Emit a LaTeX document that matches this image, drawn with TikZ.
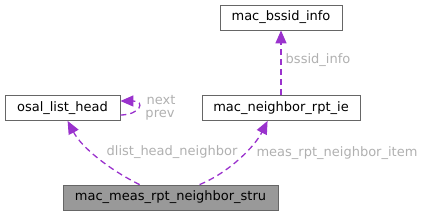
\documentclass[tikz,border=0pt]{standalone}
\usepackage{fontspec}
\setmainfont{DejaVu Sans}
\usetikzlibrary{arrows.meta}
\definecolor{edgec}{HTML}{9A32CD}
\definecolor{lblc}{HTML}{B0B0B0}
\definecolor{boxc}{HTML}{666666}
\definecolor{hilite}{HTML}{999999}
\begin{document}
\begin{tikzpicture}[x=1pt,y=-1pt,
  box/.style={draw=boxc, line width=0.8pt, fill=white, minimum height=25pt, inner sep=0pt, font=\fontsize{13}{15}\selectfont},
  conn/.style={draw=edgec, line width=1.3pt, dash pattern=on 6pt off 4pt, -{Triangle[length=13pt,width=11pt]}},
  lbl/.style={text=lblc, inner sep=0pt, font=\fontsize{13}{15}\selectfont}]
\useasboundingbox (0,0) rectangle (424,216);
\node[box, minimum width=115pt] (osal) at (62.5,108) {osal\_list\_head};
\node[box, minimum width=122pt] (bssid) at (281,17.5) {mac\_bssid\_info};
\node[box, minimum width=158pt] (rpt) at (281,108) {mac\_neighbor\_rpt\_ie};
\node[box, minimum width=215pt, fill=hilite] (stru) at (170.5,197.5) {mac\_meas\_rpt\_neighbor\_stru};
\draw[conn] ([xshift=77pt]stru.north west) .. controls (110,170) and (82,148) .. ([xshift=63pt]osal.south west);
\draw[conn] ([xshift=137pt]stru.north west) .. controls (230,172) and (255,146) .. ([xshift=66pt]rpt.south west);
\draw[conn] ([yshift=-7pt]osal.east) .. controls (140,115) and (146,101) .. ([yshift=7pt]osal.east);
\draw[conn] (rpt.north) -- (bssid.south);
\node[lbl] (lnext) at (161,100) {next};
\node[lbl] (lprev) at (160,115) {prev};
\node[lbl] (lbssid) at (318,60) {bssid\_info};
\node[lbl] (ldlist) at (172,152) {dlist\_head\_neighbor};
\node[lbl] (lmeas) at (337,153) {meas\_rpt\_neighbor\_item};
\end{tikzpicture}
\end{document}
